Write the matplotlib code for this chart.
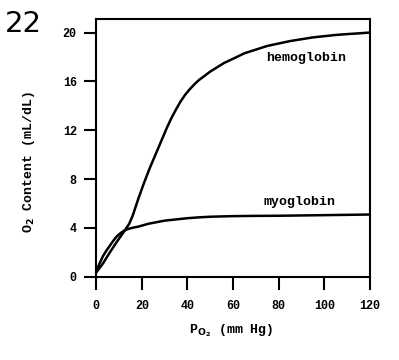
import matplotlib
matplotlib.use("Agg")
import matplotlib.pyplot as plt

# O2 dissociation curves
# P_O2 in mm Hg, O2 content in mL/dL
hb_po2 = [0, 3, 6, 9, 12, 14.5, 16, 18.5, 21, 23.5, 26, 28.5, 31, 33, 35, 37,
          39, 41, 43, 45, 47.5, 50, 53, 56, 60, 65, 70, 75, 80, 85, 90, 95,
          100, 105, 110, 115, 120]
hb_o2 = [0.35, 1.1, 2.0, 2.85, 3.65, 4.35, 5.0, 6.4, 7.7, 8.9, 10.0, 11.1,
         12.2, 13.0, 13.7, 14.35, 14.9, 15.35, 15.75, 16.1, 16.45, 16.8,
         17.15, 17.5, 17.85, 18.3, 18.6, 18.9, 19.1, 19.3, 19.45, 19.6, 19.7,
         19.8, 19.87, 19.93, 20.0]

mb_po2 = [0, 1.5, 3, 4.5, 6, 7.5, 9, 10.5, 12, 14, 16, 18.3, 23, 30, 40, 45,
          50, 60, 70, 80, 100, 120]
mb_o2 = [0.4, 1.1, 1.7, 2.15, 2.55, 2.95, 3.3, 3.55, 3.75, 3.92, 4.02, 4.1,
         4.35, 4.6, 4.8, 4.87, 4.92, 4.97, 4.99, 5.0, 5.05, 5.1]

x_ticks = [0, 20, 40, 60, 80, 100, 120]
y_ticks = [0, 4, 8, 12, 16, 20]

mono = "Liberation Mono"

fig = plt.figure(figsize=(3.99, 3.6), dpi=100)
ax = fig.add_axes([0.241, 0.231, 0.686, 0.716])

ax.plot(hb_po2, hb_o2, color="black", linewidth=1.8)
ax.plot(mb_po2, mb_o2, color="black", linewidth=1.8)

ax.text(74.5, 17.9, "hemoglobin", fontfamily=mono, fontweight="bold",
        fontsize=9.5, va="center", ha="left")
ax.text(73.5, 6.1, "myoglobin", fontfamily=mono, fontweight="bold",
        fontsize=9.5, va="center", ha="left")

ax.set_xlim(0, 120)
ax.set_ylim(0, 21.1)
ax.set_xticks(x_ticks)
ax.set_yticks(y_ticks)
ax.tick_params(axis="both", direction="out", length=9, width=1.5,
               labelsize=8.5)
ax.tick_params(axis="x", pad=8)
ax.tick_params(axis="y", pad=5)
for lab in ax.get_xticklabels() + ax.get_yticklabels():
    lab.set_fontfamily(mono)
    lab.set_fontweight("bold")

for sp in ax.spines.values():
    sp.set_linewidth(1.5)

ax.set_ylabel(r"O$_\mathbf{2}$ Content (mL/dL)", fontfamily=mono,
              fontweight="bold", fontsize=9.5)
ax.yaxis.set_label_coords(-0.215, 0.445)
ax.set_xlabel(r"P$_{\mathbf{O_2}}$ (mm Hg)", fontfamily=mono,
              fontweight="bold", fontsize=9.5)
ax.xaxis.set_label_coords(0.495, -0.175)

fig.text(5 / 399, 1 - 10 / 360, "22", fontsize=21, va="top", ha="left")

fig.savefig("out.png", dpi=100)
